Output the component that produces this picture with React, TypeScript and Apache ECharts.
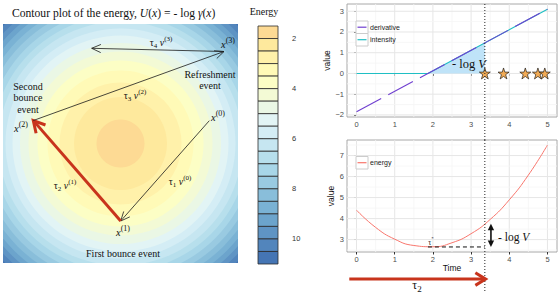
import React, { useEffect, useRef } from 'react';
import * as echarts from 'echarts';

// ---------- Left panel: contour plot of the energy ----------
const contourLevels = [2, 2.5, 3, 3.5, 4, 4.5, 5, 5.5, 6, 6.5, 7, 7.5, 8, 8.5, 9, 9.5, 10, 10.5];
const contourRadii = [24, 46.5, 61, 73, 83, 92, 100.5, 108, 115, 122, 128, 134, 140, 145.5, 151, 156, 161, 166];
const binColors = [
  '#FDDA94', '#FEE99D', '#FFF1AA', '#FFFAB7', '#FCFEC5', '#F3FAD5', '#EAF7E5', '#E2F4F5',
  '#D4EDF5', '#C6E6F1', '#B7DFEC', '#A8D6E8', '#99CAE1', '#89BEDA', '#7AB2D4', '#6CA4CC',
  '#5F94C4', '#5285BC', '#4575B4',
];
const colorbarBreaks = [1.5, 2, 2.5, 3, 3.5, 4, 4.5, 5, 5.5, 6, 6.5, 7, 7.5, 8, 8.5, 9, 9.5, 10, 10.5, 11];
const colorbarTicks = [2, 4, 6, 8, 10];

// trajectory points x(0), x(1), x(2), x(3), and end of the refreshed direction
const pathX = [88.8, 0.2, -87.2, 103.5, -28.8];
const pathY = [22.8, -77.5, 23, 92, 95.2];
const pathSegments = [[0, 1, 0], [1, 2, 1], [2, 3, 0], [3, 4, 0]];

// ---------- Right panels ----------
const timeTicks = [0, 1, 2, 3, 4, 5];
const timeMinor = [0.5, 1.5, 2.5, 3.5, 4.5];
const topTicks = [-2, -1, 0, 1, 2, 3];
const topMinor = [-1.5, -0.5, 0.5, 1.5, 2.5];
const bottomTicks = [3, 4, 5, 6, 7];
const bottomMinor = [2.5, 3.5, 4.5, 5.5, 6.5, 7.5];

const derivativeTime = [0, 5];
const derivativeValue = [-1.85, 3.1];
const intensityTime = [0, 1.87, 5];
const intensityValue = [0, 0, 3.1];
const fillTime = [1.87, 3.36];
const fillValue = [0, 1.48];
const eventTimes = [3.36, 3.85, 4.42, 4.75, 4.93];
const eventValues = [0, 0, 0, 0, 0];

const energyTime = [0, 0.5, 1, 1.5, 2, 2.5, 3, 3.5, 4, 4.5, 5];
const energyValue = [4.4, 3.58, 3.02, 2.72, 2.66, 2.85, 3.28, 3.96, 4.89, 6.07, 7.5];
const tauStar = 1.87;
const energyMin = 2.65;
const tau2 = 3.36;
const energyAtTau2 = 3.75;

const SERIF = "'Liberation Serif', 'DejaVu Serif', serif";
const SANS = "'Liberation Sans', Arial, sans-serif";
const RED = '#C8341C';
const STAR = 'path://M50,2 L61,36 L97,36 L68,57 L79,92 L50,71 L21,92 L32,57 L3,36 L39,36 Z';

function mathRich(size: number) {
  const small = Math.round(size * 0.72);
  return {
    n: { fontFamily: SERIF, fontSize: size, lineHeight: size + 4, fill: '#111' },
    i: { fontFamily: SERIF, fontSize: size, fontStyle: 'italic', lineHeight: size + 4, fill: '#111' },
    sup: { fontFamily: SERIF, fontSize: small, lineHeight: small, fill: '#111', verticalAlign: 'top' },
    sub: { fontFamily: SERIF, fontSize: small, lineHeight: small, fill: '#111', verticalAlign: 'bottom' },
  };
}

function txt(x: number, y: number, text: string, size: number, align = 'center', extra: any = {}) {
  return {
    type: 'text',
    x,
    y,
    z: 100,
    style: {
      text,
      rich: mathRich(size),
      fontFamily: SERIF,
      fontSize: size,
      fill: '#111',
      align,
      verticalAlign: 'middle',
      textAlign: align,
      textVerticalAlign: 'middle',
      ...extra,
    },
  };
}

function chevron(p: number[], ang: number, len: number, spread: number) {
  const a1 = ang + Math.PI - spread;
  const a2 = ang + Math.PI + spread;
  return [
    [p[0] + len * Math.cos(a1), p[1] + len * Math.sin(a1)],
    [p[0], p[1]],
    [p[0] + len * Math.cos(a2), p[1] + len * Math.sin(a2)],
  ];
}

function gridLineSeries(xAxisIndex: number, yAxisIndex: number, xs: number[][], ys: number[][]) {
  const data: number[][] = [];
  xs[0].forEach((v) => data.push([v, 0, 1]));
  xs[1].forEach((v) => data.push([v, 0, 0]));
  ys[0].forEach((v) => data.push([v, 1, 1]));
  ys[1].forEach((v) => data.push([v, 1, 0]));
  return {
    type: 'custom',
    xAxisIndex,
    yAxisIndex,
    z: 1,
    silent: true,
    data,
    renderItem: (params: any, api: any) => {
      const v = api.value(0);
      const orient = api.value(1);
      const major = api.value(2);
      const cs = params.coordSys;
      const style = { stroke: major ? '#E6E6E6' : '#F5F5F5', lineWidth: major ? 1 : 0.8 };
      if (orient === 0) {
        const x = api.coord([v, 0])[0];
        return { type: 'line', shape: { x1: x, y1: cs.y, x2: x, y2: cs.y + cs.height }, style };
      }
      const y = api.coord([0, v])[1];
      return { type: 'line', shape: { x1: cs.x, y1: y, x2: cs.x + cs.width, y2: y }, style };
    },
  };
}

function valueAxis(gridIndex: number, min: number, max: number, ticks: number[], extra: any = {}) {
  return {
    type: 'value',
    gridIndex,
    min,
    max,
    axisLine: { show: false },
    splitLine: { show: false },
    axisTick: { show: true, length: 2.5, customValues: ticks, lineStyle: { color: '#333', width: 1 } },
    axisLabel: {
      customValues: ticks,
      color: '#4D4D4D',
      fontSize: 7.5,
      fontFamily: SANS,
      margin: 3,
      formatter: (v: number) => String(v).replace('-', '\u2212'),
    },
    nameTextStyle: { color: '#111', fontSize: 8.5, fontFamily: SANS },
    ...extra,
  };
}

export default function App() {
  const ref = useRef<HTMLDivElement>(null);
  useEffect(() => {
    if (!ref.current) return;
    const chart = echarts.init(ref.current, undefined, { renderer: 'svg' });

    const ringData = contourRadii.map((r, i) => [r, i]).reverse();
    const colorbarData = binColors.map((c, i) => [colorbarBreaks[i], colorbarBreaks[i + 1], i]);
    const segData = pathSegments.map(([a, b, s]) => [pathX[a], pathY[a], pathX[b], pathY[b], s]);

    const option: any = {
      animation: false,
      backgroundColor: '#fff',
      grid: [
        { left: 3, top: 24, width: 235, height: 239, show: true, backgroundColor: binColors[18], borderWidth: 0 },
        { left: 258, top: 26, width: 20, height: 238 },
        { left: 347, top: 4, width: 210, height: 113, show: true, backgroundColor: '#fff', borderColor: '#A8A8A8', borderWidth: 1 },
        { left: 347, top: 140, width: 210, height: 112, show: true, backgroundColor: '#fff', borderColor: '#A8A8A8', borderWidth: 1 },
      ],
      xAxis: [
        { type: 'value', gridIndex: 0, min: -117.5, max: 117.5, show: false },
        { type: 'value', gridIndex: 1, min: 0, max: 1, show: false },
        valueAxis(2, -0.25, 5.25, timeTicks),
        valueAxis(3, -0.25, 5.25, timeTicks, { name: 'Time', nameLocation: 'middle', nameGap: 9 }),
      ],
      yAxis: [
        { type: 'value', gridIndex: 0, min: -119.5, max: 119.5, show: false },
        {
          type: 'value',
          gridIndex: 1,
          min: 1.5,
          max: 11,
          inverse: true,
          position: 'right',
          axisLine: { show: false },
          splitLine: { show: false },
          axisTick: { show: true, length: 5, customValues: colorbarTicks, lineStyle: { color: '#666', width: 1 } },
          axisLabel: { customValues: colorbarTicks, color: '#333', fontSize: 7.5, fontFamily: SANS, margin: 14 },
        },
        valueAxis(2, -2.1, 3.35, topTicks, { name: 'value', nameLocation: 'middle', nameGap: 8, nameRotate: 90 }),
        valueAxis(3, 2.41, 7.74, bottomTicks, { name: 'value', nameLocation: 'middle', nameGap: 8, nameRotate: 90 }),
      ],
      series: [
        // contour rings
        {
          type: 'custom',
          xAxisIndex: 0,
          yAxisIndex: 0,
          clip: true,
          silent: true,
          data: ringData,
          renderItem: (params: any, api: any) => {
            const c = api.coord([0, 0]);
            const r = api.size([api.value(0), 0])[0];
            return { type: 'circle', shape: { cx: c[0], cy: c[1], r }, style: { fill: binColors[api.value(1)] } };
          },
        },
        // trajectory arrows
        {
          type: 'custom',
          xAxisIndex: 0,
          yAxisIndex: 0,
          silent: true,
          z: 5,
          data: segData,
          renderItem: (params: any, api: any) => {
            const p0 = api.coord([api.value(0), api.value(1)]);
            const p1 = api.coord([api.value(2), api.value(3)]);
            const red = api.value(4) === 1;
            const ang = Math.atan2(p1[1] - p0[1], p1[0] - p0[0]);
            const color = red ? RED : '#1A1A1A';
            const w = red ? 3 : 0.8;
            const head = chevron(p1, ang, red ? 13 : 10, red ? 0.5 : 0.42);
            const end = red ? [p1[0] - 1.5 * Math.cos(ang), p1[1] - 1.5 * Math.sin(ang)] : p1;
            return {
              type: 'group',
              children: [
                { type: 'line', shape: { x1: p0[0], y1: p0[1], x2: end[0], y2: end[1] }, style: { stroke: color, lineWidth: w } },
                { type: 'polyline', shape: { points: head }, style: { stroke: color, lineWidth: w, fill: 'none', lineJoin: 'miter' } },
              ],
            };
          },
        },
        // colour bar
        {
          type: 'custom',
          xAxisIndex: 1,
          yAxisIndex: 1,
          silent: true,
          data: colorbarData,
          renderItem: (params: any, api: any) => {
            const a = api.coord([0, api.value(0)]);
            const b = api.coord([1, api.value(1)]);
            return {
              type: 'rect',
              shape: { x: a[0], y: Math.min(a[1], b[1]), width: b[0] - a[0], height: Math.abs(b[1] - a[1]) },
              style: { fill: binColors[api.value(2)], stroke: '#2B2B2B', lineWidth: 0.8 },
            };
          },
        },
        // top panel grid lines
        gridLineSeries(2, 2, [timeTicks, timeMinor], [topTicks, topMinor]),
        // fill
        {
          type: 'line',
          xAxisIndex: 2,
          yAxisIndex: 2,
          z: 2,
          symbol: 'none',
          silent: true,
          data: fillTime.map((t, i) => [t, fillValue[i]]),
          lineStyle: { width: 0 },
          areaStyle: { color: '#BFE3F8', opacity: 1 },
        },
        {
          type: 'line',
          name: 'intensity',
          xAxisIndex: 2,
          yAxisIndex: 2,
          z: 3,
          symbol: 'none',
          data: intensityTime.map((t, i) => [t, intensityValue[i]]),
          lineStyle: { color: '#1FBFC4', width: 1.1 },
        },
        {
          type: 'line',
          name: 'derivative',
          xAxisIndex: 2,
          yAxisIndex: 2,
          z: 4,
          symbol: 'none',
          data: derivativeTime.map((t, i) => [t, derivativeValue[i]]),
          lineStyle: { color: '#7040D0', width: 1.1, type: [28, 8] },
        },
        {
          type: 'scatter',
          xAxisIndex: 2,
          yAxisIndex: 2,
          z: 5,
          symbol: STAR,
          symbolSize: 11,
          data: eventTimes.map((t, i) => [t, eventValues[i]]),
          itemStyle: { color: '#F39A2E', borderColor: '#111', borderWidth: 0.8 },
        },
        // dotted vertical (top panel and the gap below it)
        {
          type: 'custom',
          xAxisIndex: 2,
          yAxisIndex: 2,
          z: 6,
          silent: true,
          data: [[tau2, 0]],
          renderItem: (params: any, api: any) => {
            const x = api.coord([api.value(0), 0])[0];
            const cs = params.coordSys;
            return {
              type: 'line',
              shape: { x1: x, y1: cs.y, x2: x, y2: cs.y + cs.height + 23 },
              style: { stroke: '#222', lineWidth: 1, lineDash: [1, 2] },
            };
          },
        },
        // bottom panel grid lines
        gridLineSeries(3, 3, [timeTicks, timeMinor], [bottomTicks, bottomMinor]),
        {
          type: 'line',
          name: 'energy',
          xAxisIndex: 3,
          yAxisIndex: 3,
          z: 3,
          symbol: 'none',
          smooth: true,
          data: energyTime.map((t, i) => [t, energyValue[i]]),
          lineStyle: { color: '#F8766D', width: 1 },
        },
        // annotations in bottom panel
        {
          type: 'custom',
          xAxisIndex: 3,
          yAxisIndex: 3,
          z: 6,
          silent: true,
          data: [[tau2, 0]],
          renderItem: (params: any, api: any) => {
            const cs = params.coordSys;
            const xT = api.coord([tau2, 0])[0];
            const dotBottom = api.coord([0, 0.55])[1];
            const m0 = api.coord([tauStar, energyMin]);
            const m1 = api.coord([tau2, energyMin]);
            const d0 = api.coord([3.52, energyMin]);
            const d1 = api.coord([3.52, energyAtTau2]);
            const r0 = api.coord([-0.19, 1.12]);
            const r1 = api.coord([3.38, 1.12]);
            const tri = (p: number[], dir: number) => [
              [p[0], p[1]],
              [p[0] - 3.2, p[1] - dir * 6.5],
              [p[0] + 3.2, p[1] - dir * 6.5],
            ];
            return {
              type: 'group',
              children: [
                { type: 'line', shape: { x1: xT, y1: cs.y, x2: xT, y2: dotBottom }, style: { stroke: '#222', lineWidth: 1, lineDash: [1, 2] } },
                { type: 'line', shape: { x1: m0[0], y1: m0[1], x2: m1[0], y2: m1[1] }, style: { stroke: '#111', lineWidth: 1, lineDash: [4, 3] } },
                { type: 'line', shape: { x1: d0[0], y1: d0[1] - 4, x2: d1[0], y2: d1[1] + 4 }, style: { stroke: '#111', lineWidth: 1.6 } },
                { type: 'polygon', shape: { points: tri(d1, -1) }, style: { fill: '#111' } },
                { type: 'polygon', shape: { points: tri(d0, 1) }, style: { fill: '#111' } },
                { type: 'line', shape: { x1: r0[0], y1: r0[1], x2: r1[0] - 2, y2: r1[1] }, style: { stroke: RED, lineWidth: 3 } },
                { type: 'polyline', shape: { points: chevron(r1, 0, 12, 0.55) }, style: { stroke: RED, lineWidth: 3, fill: 'none' } },
              ],
            };
          },
        },
      ],
      graphic: [
        txt(12, 13, '{n|Contour plot of the energy, }{i|U}{n|(}{i|x}{n|) = - log }{i|γ}{n|(}{i|x}{n|)}', 11.6, 'left'),
        txt(264, 11, '{n|Energy}', 10),
        // left panel labels
        txt(28, 86, '{n|Second}', 10),
        txt(28, 97.5, '{n|bounce}', 10),
        txt(28, 109, '{n|event}', 10),
        txt(21, 128, '{i|x}{sup|(2)}', 10.5),
        txt(210, 74, '{n|Refreshment}', 10),
        txt(210, 85.5, '{n|event}', 10),
        txt(228, 44, '{i|x}{sup|(3)}', 10.5),
        txt(161, 42, '{n|τ}{sub|4}{n| }{i|v}{sup|(3)}', 10),
        txt(135, 95, '{n|τ}{sub|3}{n| }{i|v}{sup|(2)}', 10),
        txt(218, 117, '{i|x}{sup|(0)}', 10.5),
        txt(65, 185, '{n|τ}{sub|2}{n| }{i|v}{sup|(1)}', 10),
        txt(180, 181, '{n|τ}{sub|1}{n| }{i|v}{sup|(0)}', 10),
        txt(123, 232, '{i|x}{sup|(1)}', 10.5),
        txt(123, 253, '{n|First bounce event}', 10),
        // right panel annotations
        txt(469, 64, '{n|- log }{i|V}', 12.5),
        txt(498, 237, '{n|- log }{i|V}', 11.5, 'left'),
        txt(431, 242, '{n|τ}{sup|*}', 7.5),
        txt(417, 285, '{n|τ}{sub|2}', 12),
        // legends
        { type: 'rect', shape: { x: 356, y: 21, width: 12, height: 12.5 }, style: { fill: '#fff', stroke: '#CCCCCC', lineWidth: 1 }, z: 90 },
        { type: 'rect', shape: { x: 356, y: 33.5, width: 12, height: 12.5 }, style: { fill: '#fff', stroke: '#CCCCCC', lineWidth: 1 }, z: 90 },
        { type: 'line', shape: { x1: 357.5, y1: 27.2, x2: 366.5, y2: 27.2 }, style: { stroke: '#7040D0', lineWidth: 1.2 }, z: 91 },
        { type: 'line', shape: { x1: 357.5, y1: 39.7, x2: 366.5, y2: 39.7 }, style: { stroke: '#1FBFC4', lineWidth: 1.2 }, z: 91 },
        { type: 'text', x: 370, y: 27.2, z: 92, style: { text: 'derivative', fontFamily: SANS, fontSize: 7, fill: '#222', textVerticalAlign: 'middle', verticalAlign: 'middle' } },
        { type: 'text', x: 370, y: 39.7, z: 92, style: { text: 'intensity', fontFamily: SANS, fontSize: 7, fill: '#222', textVerticalAlign: 'middle', verticalAlign: 'middle' } },
        { type: 'rect', shape: { x: 356, y: 156.5, width: 12, height: 12.5 }, style: { fill: '#fff', stroke: '#CCCCCC', lineWidth: 1 }, z: 90 },
        { type: 'line', shape: { x1: 357.5, y1: 162.7, x2: 366.5, y2: 162.7 }, style: { stroke: '#F8766D', lineWidth: 1.2 }, z: 91 },
        { type: 'text', x: 370, y: 162.7, z: 92, style: { text: 'energy', fontFamily: SANS, fontSize: 7, fill: '#222', textVerticalAlign: 'middle', verticalAlign: 'middle' } },
      ],
    };
    chart.setOption(option);
    return () => chart.dispose();
  }, []);
  return <div ref={ref} style={{ position: 'absolute', left: 0, top: 0, width: 560, height: 295 }} />;
}
